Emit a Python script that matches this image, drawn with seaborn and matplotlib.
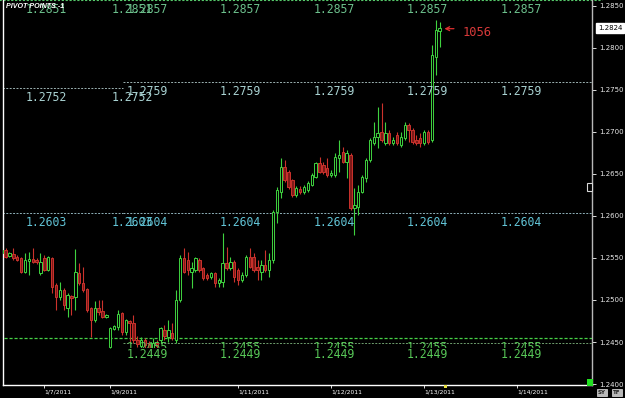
import numpy as np
import pandas as pd
import matplotlib
matplotlib.use("Agg")
import matplotlib.pyplot as plt
from matplotlib.patches import Rectangle
import seaborn as sns

# ---------------- data (EUR/USD hourly candles) ----------------
opens = [1.2556, 1.2560, 1.2552, 1.2555, 1.2551, 1.2550, 1.2533, 1.2546, 1.2549, 1.2548,
         1.2532, 1.2550, 1.2536, 1.2550, 1.2518, 1.2504, 1.2512, 1.2490, 1.2505, 1.2504,
         1.2532, 1.2520, 1.2513, 1.2490, 1.2476, 1.2490, 1.2487, 1.2480, 1.2444, 1.2465,
         1.2468, 1.2485, 1.2462, 1.2475, 1.2473, 1.2452, 1.2445, 1.2452, 1.2448, 1.2443,
         1.2449, 1.2452, 1.2464, 1.2456, 1.2461, 1.2452, 1.2500, 1.2550, 1.2548, 1.2533,
         1.2536, 1.2548, 1.2538, 1.2530, 1.2527, 1.2532, 1.2520, 1.2521, 1.2544, 1.2538,
         1.2545, 1.2536, 1.2524, 1.2530, 1.2551, 1.2551, 1.2539, 1.2533, 1.2542, 1.2536,
         1.2548, 1.2605, 1.2629, 1.2658, 1.2652, 1.2643, 1.2625, 1.2632, 1.2629, 1.2631,
         1.2637, 1.2646, 1.2663, 1.2661, 1.2657, 1.2649, 1.2649, 1.2669, 1.2676, 1.2664,
         1.2673, 1.2610, 1.2611, 1.2629, 1.2645, 1.2667, 1.2687, 1.2694, 1.2700, 1.2687,
         1.2699, 1.2687, 1.2696, 1.2684, 1.2693, 1.2708, 1.2702, 1.2690, 1.2693, 1.2687,
         1.2700, 1.2690, 1.2789, 1.2820]
highs = [1.2562, 1.2562, 1.2557, 1.2562, 1.2554, 1.2551, 1.2556, 1.2557, 1.2562, 1.2550,
         1.2556, 1.2554, 1.2552, 1.2551, 1.2520, 1.2521, 1.2514, 1.2508, 1.2506, 1.2561,
         1.2544, 1.2539, 1.2514, 1.2492, 1.2499, 1.2500, 1.2500, 1.2483, 1.2468, 1.2470,
         1.2488, 1.2486, 1.2477, 1.2476, 1.2482, 1.2457, 1.2456, 1.2455, 1.2451, 1.2455,
         1.2452, 1.2468, 1.2470, 1.2476, 1.2473, 1.2512, 1.2554, 1.2562, 1.2557, 1.2545,
         1.2551, 1.2550, 1.2539, 1.2532, 1.2533, 1.2533, 1.2526, 1.2580, 1.2563, 1.2551,
         1.2548, 1.2538, 1.2533, 1.2554, 1.2562, 1.2556, 1.2548, 1.2548, 1.2560, 1.2556,
         1.2607, 1.2634, 1.2669, 1.2667, 1.2655, 1.2644, 1.2636, 1.2636, 1.2637, 1.2642,
         1.2651, 1.2664, 1.2670, 1.2664, 1.2669, 1.2655, 1.2675, 1.2690, 1.2682, 1.2679,
         1.2675, 1.2633, 1.2637, 1.2649, 1.2669, 1.2693, 1.2712, 1.2730, 1.2734, 1.2712,
         1.2702, 1.2694, 1.2700, 1.2700, 1.2712, 1.2711, 1.2705, 1.2696, 1.2699, 1.2702,
         1.2702, 1.2804, 1.2833, 1.2831]
lows = [1.2554, 1.2550, 1.2551, 1.2548, 1.2546, 1.2532, 1.2532, 1.2530, 1.2544, 1.2543,
        1.2530, 1.2535, 1.2535, 1.2508, 1.2488, 1.2500, 1.2488, 1.2480, 1.2482, 1.2488,
        1.2518, 1.2510, 1.2486, 1.2456, 1.2474, 1.2482, 1.2479, 1.2479, 1.2443, 1.2464,
        1.2464, 1.2458, 1.2458, 1.2449, 1.2449, 1.2444, 1.2443, 1.2440, 1.2432, 1.2440,
        1.2442, 1.2449, 1.2452, 1.2450, 1.2452, 1.2449, 1.2498, 1.2532, 1.2530, 1.2514,
        1.2533, 1.2533, 1.2524, 1.2524, 1.2525, 1.2515, 1.2515, 1.2515, 1.2536, 1.2536,
        1.2521, 1.2518, 1.2521, 1.2527, 1.2538, 1.2533, 1.2524, 1.2524, 1.2533, 1.2527,
        1.2544, 1.2592, 1.2621, 1.2640, 1.2632, 1.2623, 1.2623, 1.2626, 1.2626, 1.2629,
        1.2636, 1.2645, 1.2651, 1.2650, 1.2646, 1.2646, 1.2646, 1.2652, 1.2663, 1.2645,
        1.2607, 1.2577, 1.2601, 1.2627, 1.2640, 1.2664, 1.2684, 1.2681, 1.2688, 1.2684,
        1.2684, 1.2684, 1.2684, 1.2682, 1.2690, 1.2688, 1.2686, 1.2684, 1.2682, 1.2684,
        1.2686, 1.2688, 1.2768, 1.2801]
closes = [1.2560, 1.2551, 1.2556, 1.2550, 1.2548, 1.2533, 1.2548, 1.2549, 1.2545, 1.2545,
          1.2545, 1.2536, 1.2551, 1.2515, 1.2504, 1.2512, 1.2494, 1.2506, 1.2502, 1.2533,
          1.2520, 1.2512, 1.2488, 1.2476, 1.2490, 1.2486, 1.2480, 1.2482, 1.2467, 1.2469,
          1.2483, 1.2462, 1.2476, 1.2473, 1.2452, 1.2448, 1.2452, 1.2446, 1.2443, 1.2449,
          1.2445, 1.2467, 1.2457, 1.2464, 1.2455, 1.2500, 1.2550, 1.2533, 1.2536, 1.2538,
          1.2550, 1.2536, 1.2526, 1.2526, 1.2532, 1.2520, 1.2524, 1.2544, 1.2538, 1.2545,
          1.2527, 1.2524, 1.2530, 1.2551, 1.2539, 1.2536, 1.2536, 1.2542, 1.2536, 1.2548,
          1.2605, 1.2631, 1.2658, 1.2643, 1.2634, 1.2625, 1.2633, 1.2629, 1.2634, 1.2639,
          1.2649, 1.2663, 1.2652, 1.2652, 1.2649, 1.2651, 1.2670, 1.2673, 1.2664, 1.2675,
          1.2610, 1.2613, 1.2629, 1.2646, 1.2667, 1.2690, 1.2694, 1.2699, 1.2690, 1.2699,
          1.2687, 1.2690, 1.2687, 1.2694, 1.2708, 1.2702, 1.2688, 1.2687, 1.2687, 1.2700,
          1.2688, 1.2792, 1.2821, 1.2824]

date_tick_bars = [11, 28, 61, 85, 109, 133]
date_tick_labels = ["1/7/2011", "1/9/2011", "1/11/2011", "1/12/2011", "1/13/2011", "1/14/2011"]
price_ticks = [1.2400, 1.2450, 1.2500, 1.2550, 1.2600, 1.2650, 1.2700, 1.2750, 1.2800, 1.2850]

# pivot levels: first session (before split) and following sessions
pivot_split_bar = 31.3
r1_level = 1.2857
r1_first_label = "1.2851"
pp_levels = [1.2752, 1.2759]
s1_levels = [1.2603, 1.2604]
s2_level = 1.2455
s3_level = 1.2449
first_label_bars = [6.3, 28.4]
next_label_bars = [32.3, 56.3, 80.4, 104.5, 128.6]

last_price = 1.2824
arrow_note = "1056"
title = "PIVOT POINTS -1"

# ---------------- style ----------------
sns.set_theme(style="dark", rc={
    "axes.facecolor": "black", "figure.facecolor": "black",
    "axes.edgecolor": "white", "xtick.color": "white", "ytick.color": "white",
    "text.color": "white", "axes.grid": False,
    "xtick.bottom": True, "ytick.right": True,
})
plt.rcParams["font.family"] = ["DejaVu Sans"]

fig = plt.figure(figsize=(6.25, 3.98), dpi=100)
ax = fig.add_axes([3 / 625, 13 / 398, 589 / 625, 385 / 398])
ax.set_facecolor("black")

df = pd.DataFrame({"bar": np.arange(len(opens)), "open": opens, "high": highs,
                   "low": lows, "close": closes})
up = df["close"] >= df["open"]
df["bottom"] = np.minimum(df["open"], df["close"])
df["height"] = np.maximum((df["close"] - df["open"]).abs(), 0.00005)

green = "#3fd23f"
red = "#cc322c"
for mask, edge, face in [(up, green, "black"), (~up, red, "#7e1a18")]:
    d = df[mask]
    ax.vlines(d["bar"], d["low"], d["high"], color=edge, lw=0.8, zorder=3)
    ax.bar(d["bar"], d["height"], bottom=d["bottom"], width=0.62, facecolor=face,
           edgecolor=edge, linewidth=0.7, zorder=4)

ax.set_xlim(0.335, 152.3)
ax.set_ylim(1.239881, 1.285714)

# ---------------- pivot lines ----------------
x_left, x_right = -2, 155
ax.plot([x_left, x_right], [r1_level] * 2, color="#55c86a", lw=0.8,
        ls=(0, (2, 1.5)), clip_on=False, zorder=2)
ax.plot([x_left, pivot_split_bar], [pp_levels[0]] * 2, color="#9cb2b2", lw=0.7, ls=(0, (2, 1.5)), zorder=2)
ax.plot([pivot_split_bar, x_right], [pp_levels[1]] * 2, color="#9cb2b2", lw=0.7, ls=(0, (2, 1.5)), zorder=2)
ax.plot([x_left, pivot_split_bar], [s1_levels[0]] * 2, color="#8fb2ba", lw=0.7, ls=(0, (2, 1.5)), zorder=2)
ax.plot([pivot_split_bar, x_right], [s1_levels[1]] * 2, color="#8fb2ba", lw=0.7, ls=(0, (2, 1.5)), zorder=2)
ax.plot([x_left, x_right], [s2_level] * 2, color="#45d045", lw=0.9, ls=(0, (2.5, 1.5)), zorder=2)
ax.plot([pivot_split_bar, x_right], [s3_level] * 2, color="#6f9f6f", lw=0.7, ls=(0, (2, 1.5)), zorder=2)

lab_kw = dict(textcoords="offset pixels", ha="left", va="top",
              fontsize=8.3, family="DejaVu Sans Mono", zorder=5)
c_r, c_p, c_s, c_b = "#6cc08c", "#a9d2d2", "#62c4d6", "#58c858"
for xb in first_label_bars:
    ax.annotate(r1_first_label, xy=(xb, r1_level), xytext=(0, -3), color=c_r, **lab_kw)
    ax.annotate(f"{pp_levels[0]:.4f}", xy=(xb, pp_levels[0]), xytext=(0, -3), color=c_p, **lab_kw)
    ax.annotate(f"{s1_levels[0]:.4f}", xy=(xb, s1_levels[0]), xytext=(0, -3), color=c_s, **lab_kw)
for xb in next_label_bars:
    ax.annotate(f"{r1_level:.4f}", xy=(xb, r1_level), xytext=(0, -3), color=c_r, **lab_kw)
    ax.annotate(f"{pp_levels[1]:.4f}", xy=(xb, pp_levels[1]), xytext=(0, -3), color=c_p, **lab_kw)
    ax.annotate(f"{s1_levels[1]:.4f}", xy=(xb, s1_levels[1]), xytext=(0, -3), color=c_s, **lab_kw)
    ax.annotate(f"{s2_level:.4f}", xy=(xb, s2_level), xytext=(0, -3), color=c_b, **lab_kw)
    ax.annotate(f"{s3_level:.4f}", xy=(xb, s3_level), xytext=(0, -5), color=c_b,
                bbox=dict(boxstyle="square,pad=0", fc="black", ec="none"), **lab_kw)

# arrow + note at last candle
last_bar = len(closes) - 1
ax.annotate("", xy=(last_bar + 0.5, 1.2823), xytext=(last_bar + 4.4, 1.2823),
            arrowprops=dict(arrowstyle="->", color="#e03030", lw=0.9, mutation_scale=7), zorder=6)
ax.text(last_bar + 5.8, 1.28185, arrow_note, color="#d83a3a", fontsize=8.7,
        family="DejaVu Sans Mono", ha="left", va="center", zorder=6)

# ---------------- axes ----------------
ax.set_xticks(date_tick_bars)
ax.set_xticklabels(date_tick_labels)
for lbl in ax.get_xticklabels():
    lbl.set_ha("left")
ax.tick_params(axis="x", colors="white", labelsize=4.3, length=2, width=0.6, pad=1.5, direction="out")

ax.yaxis.tick_right()
ax.set_yticks(price_ticks)
ax.set_yticklabels([f"{v:.4f}" for v in price_ticks])
ax.tick_params(axis="y", colors="white", labelcolor="#e8e8e8", labelsize=5, length=3, width=0.6, pad=2,
               direction="out", left=False, right=True)

ax.spines["top"].set_visible(False)
ax.spines["left"].set_color("white")
ax.spines["left"].set_linewidth(1.0)
ax.spines["bottom"].set_color("white")
ax.spines["bottom"].set_linewidth(1.0)
ax.spines["right"].set_color("#b8b8b8")
ax.spines["right"].set_linewidth(1.0)

# current price box
ax.annotate(f"{last_price:.4f}", xy=(1, last_price), xycoords=("axes fraction", "data"),
            xytext=(6, 0), textcoords="offset pixels", ha="left", va="center",
            fontsize=5, color="black", annotation_clip=False,
            bbox=dict(boxstyle="square,pad=0.3", fc="white", ec="white"))

# title
fig.text(6 / 625, 1 - 2.5 / 398, title, ha="left", va="top", color="white",
         fontsize=5.1, fontweight="bold", fontstyle="italic", family="Liberation Sans", zorder=10)

# small interface markers
fig.add_artist(Rectangle((587 / 625, (398 - 386) / 398), 6 / 625, 7 / 398,
                         transform=fig.transFigure, facecolor="#22e022", edgecolor="none"))
fig.add_artist(Rectangle((444 / 625, (398 - 388) / 398), 3 / 625, 3 / 398,
                         transform=fig.transFigure, facecolor="#e8e040", edgecolor="none"))
fig.add_artist(Rectangle((587 / 625, (398 - 191) / 398), 5 / 625, 8 / 398,
                         transform=fig.transFigure, facecolor="black", edgecolor="#d8d8d8", lw=0.8))
for txt, x0 in [("SY", 596), ("TF", 611)]:
    fig.text((x0 + 6) / 625, 1 - 392.5 / 398, txt, ha="center", va="center", fontsize=4,
             fontweight="bold", color="#202020",
             bbox=dict(boxstyle="square,pad=0.25", fc="#b8b8b8", ec="#e0e0e0", lw=0.5))

fig.savefig("out.png", dpi=100, facecolor="black")
